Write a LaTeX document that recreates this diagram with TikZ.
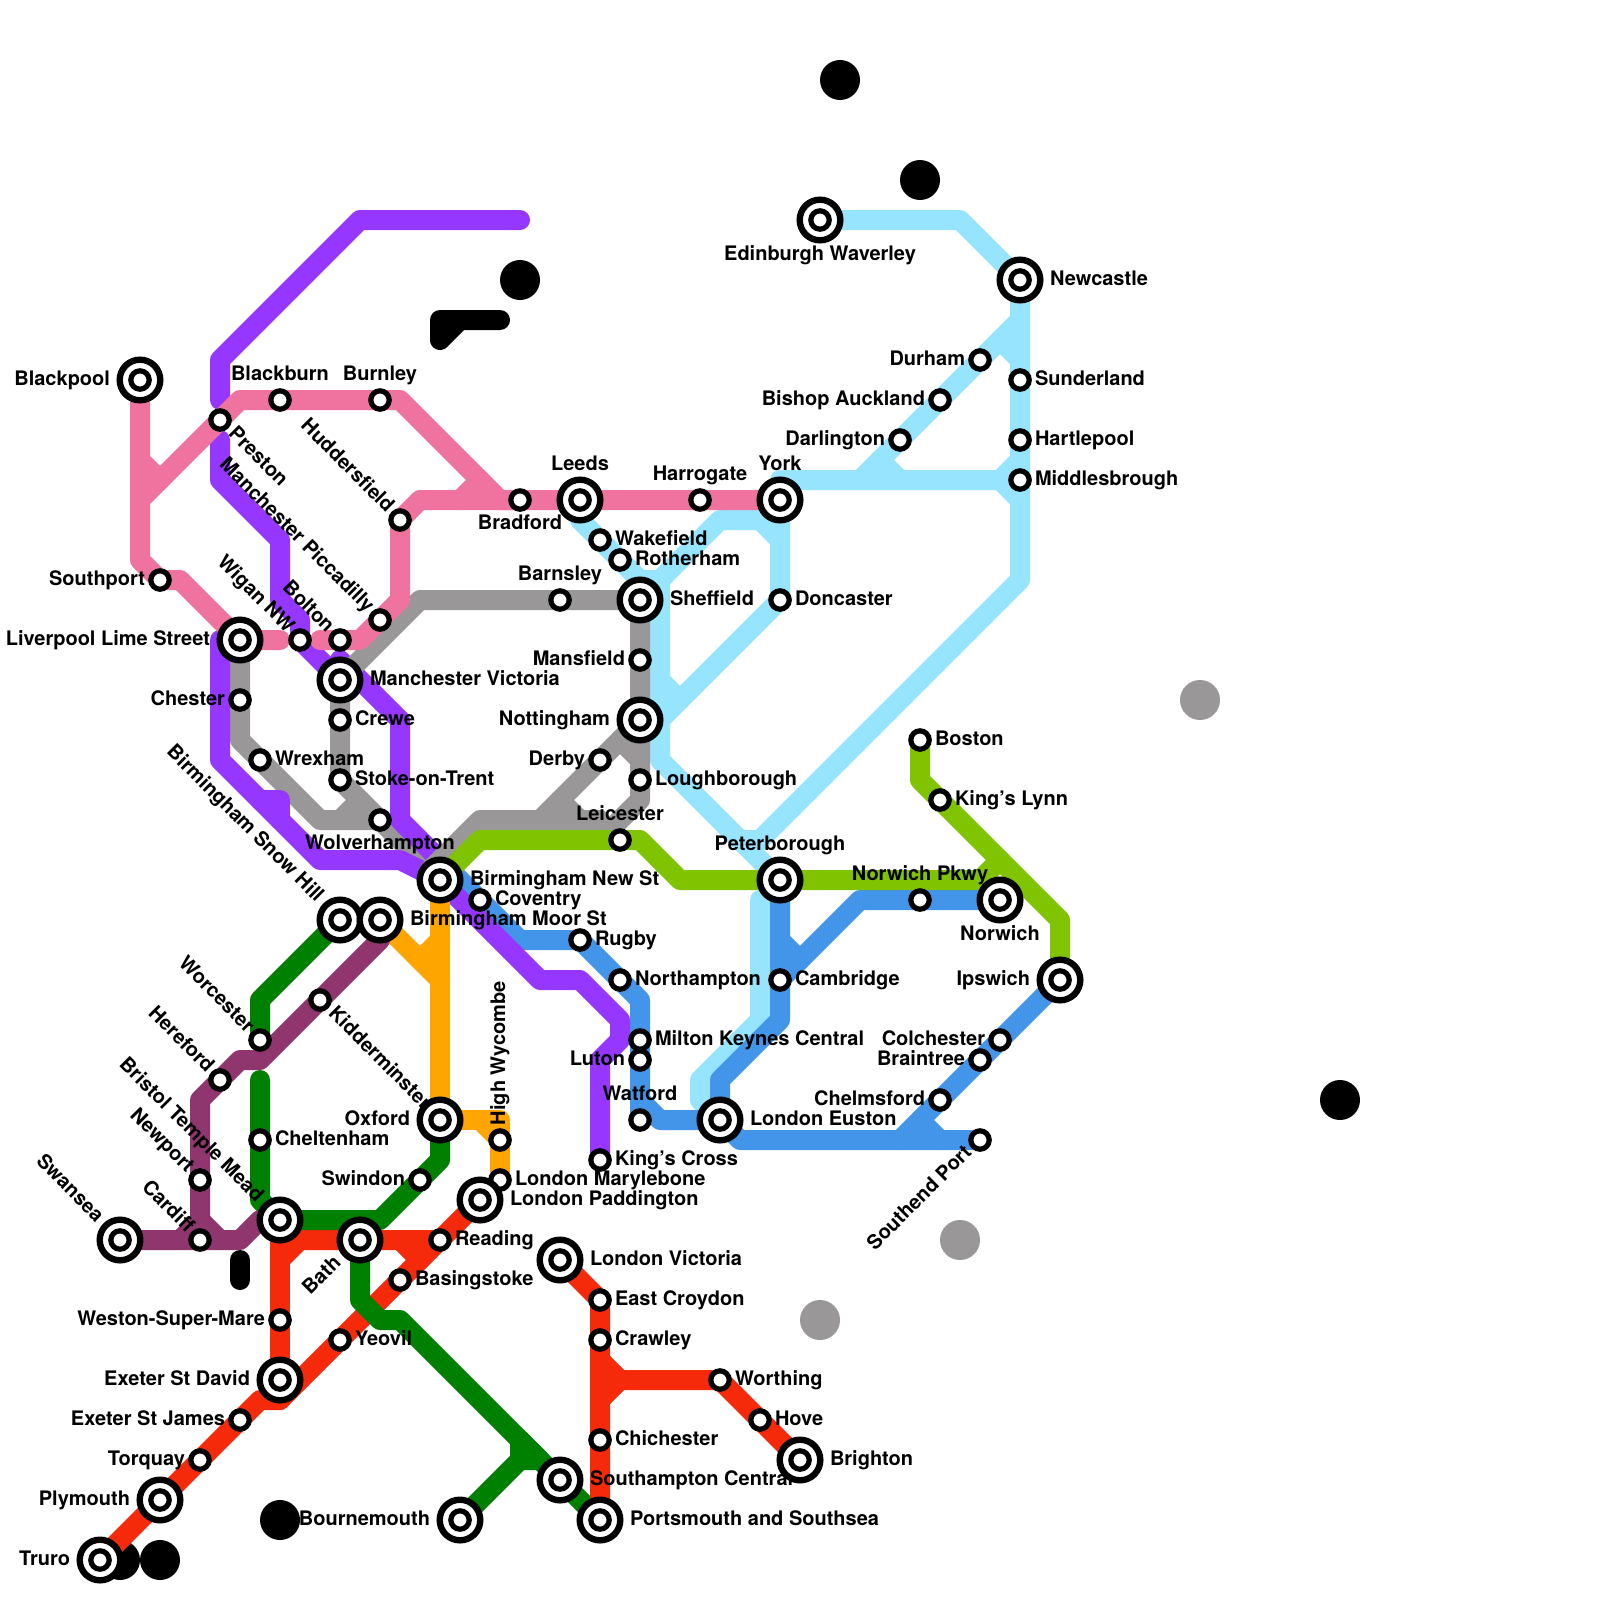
\documentclass[tikz,border=0pt]{standalone}
\usepackage{fontspec}
\setmainfont{TeX Gyre Heros}
\pgfdeclarelayer{lines}
\pgfdeclarelayer{labels}
\pgfsetlayers{lines,labels,main}
\definecolor{cPink}{HTML}{EF729F}
\definecolor{cPurple}{HTML}{9637FF}
\definecolor{cGrey}{HTML}{999797}
\definecolor{cSky}{HTML}{96E4FD}
\definecolor{cGreen}{HTML}{008000}
\definecolor{cMaroon}{HTML}{8F366F}
\definecolor{cRed}{HTML}{F42A0A}
\definecolor{cBlue}{HTML}{4295E9}
\definecolor{cOrange}{HTML}{FFA500}
\definecolor{cLime}{HTML}{80C300}
\tikzset{
  metro/.style={line width=10pt,line cap=round,line join=round},
  smallring/.style={circle,draw=black,fill=white,inner sep=0pt,line width=2.6pt,minimum size=9.2pt},
  bigring/.style={circle,draw=black,fill=white,inner sep=0pt,line width=3.2pt,minimum size=20.3pt},
  blob/.style={circle,inner sep=0pt,minimum size=20pt},
  lbl/.style={inner sep=0pt,outer sep=0pt,font=\fontsize{10}{12}\selectfont\bfseries,text=black},
  sR/.style={anchor=base west,xshift=7.5pt,yshift=-2.5pt},
  sL/.style={anchor=base east,xshift=-7.5pt,yshift=-2.5pt},
  sA/.style={anchor=base,yshift=10pt},
  sB/.style={anchor=base,yshift=-14.5pt},
  bR/.style={anchor=base west,xshift=15pt,yshift=-2.5pt},
  bL/.style={anchor=base east,xshift=-15pt,yshift=-2.5pt},
  bA/.style={anchor=base,yshift=15pt},
  bB/.style={anchor=base,yshift=-20pt},
  rtxt/.style={text height=7.2pt,text depth=0pt},
  sUL/.style={rtxt,anchor=east,xshift=-4.3pt,yshift=5.8pt,rotate=-45},
  bUL/.style={rtxt,anchor=east,xshift=-9.6pt,yshift=11.1pt,rotate=-45},
  sDR/.style={rtxt,anchor=west,xshift=6.3pt,yshift=-4.8pt,rotate=-45},
  sDL/.style={rtxt,anchor=east,xshift=-6.3pt,yshift=-4.3pt,rotate=45},
  bDL/.style={rtxt,anchor=east,xshift=-11.6pt,yshift=-9.6pt,rotate=45},
  sUp/.style={rtxt,anchor=west,xshift=-1pt,yshift=7.5pt,rotate=90},
}
\newcommand{\lblnode}[3]{\begin{pgfonlayer}{labels}\node[lbl,#2] (#1-t) at (#1.center) {#3};\end{pgfonlayer}}
\newcommand{\smst}[5]{\node[smallring] (#1) at (#2,#3) {};\lblnode{#1}{#4}{#5}}
\newcommand{\bgst}[5]{\node[bigring] (#1) at (#2,#3) {};\node[smallring] (#1-i) at (#1.center) {};\lblnode{#1}{#4}{#5}}
\begin{document}
\begin{tikzpicture}[x=0.5pt,y=-0.5pt]
\useasboundingbox (0,0) rectangle (1600,1600);
% stations
\bgst{blackpool}{140}{380}{bL}{Blackpool}
\smst{blackburn}{280}{400}{sA}{Blackburn}
\smst{burnley}{380}{400}{sA}{Burnley}
\smst{preston}{220}{420}{sDR}{Preston}
\smst{southport}{160}{580}{sL}{Southport}
\bgst{liver}{240}{640}{bL}{Liverpool Lime Street}
\smst{wigan}{300}{640}{sUL}{Wigan NW}
\smst{bolton}{340}{640}{sUL}{Bolton}
\smst{piccadilly}{380}{620}{sUL}{Manchester Piccadilly}
\smst{hudd}{400}{520}{sUL}{Huddersfield}
\smst{bradford}{520}{500}{sB}{Bradford}
\bgst{leeds}{580}{500}{bA}{Leeds}
\smst{harrogate}{700}{500}{sA}{Harrogate}
\bgst{york}{780}{500}{bA}{York}
\smst{wakefield}{600}{540}{sR}{Wakefield}
\smst{rotherham}{620}{560}{sR}{Rotherham}
\bgst{sheff}{640}{600}{bR}{Sheffield}
\smst{barnsley}{560}{600}{sA}{Barnsley}
\smst{doncaster}{780}{600}{sR}{Doncaster}
\smst{mansfield}{640}{660}{sL}{Mansfield}
\bgst{nott}{640}{720}{bL}{Nottingham}
\smst{derby}{600}{760}{sL}{Derby}
\smst{lough}{640}{780}{sR}{Loughborough}
\smst{leicester}{620}{840}{sA}{Leicester}
\bgst{mvic}{340}{680}{bR}{Manchester Victoria}
\smst{crewe}{340}{720}{sR}{Crewe}
\smst{chester}{240}{700}{sL}{Chester}
\smst{wrexham}{260}{760}{sR}{Wrexham}
\smst{stoke}{340}{780}{sR}{Stoke-on-Trent}
\smst{wolv}{380}{820}{sB}{Wolverhampton}
\bgst{bham}{440}{880}{bR}{Birmingham New St}
\smst{coventry}{480}{900}{sR}{Coventry}
\bgst{snow}{340}{920}{bUL}{Birmingham Snow Hill}
\bgst{moor}{380}{920}{bR}{Birmingham Moor St}
\smst{rugby}{580}{940}{sR}{Rugby}
\smst{northampton}{620}{980}{sR}{Northampton}
\smst{milton}{640}{1040}{sR}{Milton Keynes Central}
\smst{luton}{640}{1060}{sL}{Luton}
\smst{watford}{640}{1120}{sA}{Watford}
\bgst{euston}{720}{1120}{bR}{London Euston}
\smst{kingsx}{600}{1160}{sR}{King’s Cross}
\bgst{peter}{780}{880}{bA}{Peterborough}
\smst{cambridge}{780}{980}{sR}{Cambridge}
\smst{npkwy}{920}{900}{sA}{Norwich Pkwy}
\bgst{norwich}{1000}{900}{bB}{Norwich}
\bgst{ipswich}{1060}{980}{bL}{Ipswich}
\smst{colchester}{1000}{1040}{sL}{Colchester}
\smst{braintree}{980}{1060}{sL}{Braintree}
\smst{chelmsford}{940}{1100}{sL}{Chelmsford}
\smst{southend}{980}{1140}{sDL}{Southend Port}
\smst{boston}{920}{740}{sR}{Boston}
\smst{klynn}{940}{800}{sR}{King’s Lynn}
\bgst{edin}{820}{220}{bB}{Edinburgh Waverley}
\bgst{newc}{1020}{280}{bR}{Newcastle}
\smst{durham}{980}{360}{sL}{Durham}
\smst{bishop}{940}{400}{sL}{Bishop Auckland}
\smst{darlington}{900}{440}{sL}{Darlington}
\smst{sunderland}{1020}{380}{sR}{Sunderland}
\smst{hartlepool}{1020}{440}{sR}{Hartlepool}
\smst{middles}{1020}{480}{sR}{Middlesbrough}
\smst{worc}{260}{1040}{sUL}{Worcester}
\smst{kidder}{320}{1000}{sDR}{Kidderminster}
\smst{hereford}{220}{1080}{sUL}{Hereford}
\bgst{oxford}{440}{1120}{bL}{Oxford}
\smst{wycombe}{500}{1140}{sUp}{High Wycombe}
\smst{maryl}{500}{1180}{sR}{London Marylebone}
\bgst{padd}{480}{1200}{bR}{London Paddington}
\smst{chelt}{260}{1140}{sR}{Cheltenham}
\smst{swindon}{420}{1180}{sL}{Swindon}
\smst{newport}{200}{1180}{sUL}{Newport}
\bgst{bristol}{280}{1220}{bUL}{Bristol Temple Mead}
\smst{cardiff}{200}{1240}{sUL}{Cardiff}
\bgst{swan}{120}{1240}{bUL}{Swansea}
\bgst{bath}{360}{1240}{bDL}{Bath}
\smst{reading}{440}{1240}{sR}{Reading}
\smst{basing}{400}{1280}{sR}{Basingstoke}
\smst{weston}{280}{1320}{sL}{Weston-Super-Mare}
\smst{yeovil}{340}{1340}{sR}{Yeovil}
\bgst{exeterd}{280}{1380}{bL}{Exeter St David}
\smst{exeterj}{240}{1420}{sL}{Exeter St James}
\smst{torquay}{200}{1460}{sL}{Torquay}
\bgst{plymouth}{160}{1500}{bL}{Plymouth}
\bgst{truro}{100}{1560}{bL}{Truro}
\bgst{bourn}{460}{1520}{bL}{Bournemouth}
\bgst{vic}{560}{1260}{bR}{London Victoria}
\smst{croydon}{600}{1300}{sR}{East Croydon}
\smst{crawley}{600}{1340}{sR}{Crawley}
\smst{worthing}{720}{1380}{sR}{Worthing}
\smst{hove}{760}{1420}{sR}{Hove}
\bgst{brighton}{800}{1460}{bR}{Brighton}
\smst{chichester}{600}{1440}{sR}{Chichester}
\bgst{soton}{560}{1480}{bR}{Southampton Central}
\bgst{ports}{600}{1520}{bR}{Portsmouth and Southsea}
\begin{pgfonlayer}{lines}
\fill[white] (0,0) rectangle (1600,1600);
% free blobs
\node[blob,fill=black] (bk1) at (840,80) {};
\node[blob,fill=black] (bk2) at (920,180) {};
\node[blob,fill=black] (bk3) at (520,280) {};
\node[blob,fill=black] (bk4) at (1340,1100) {};
\node[blob,fill=black] (bk5) at (280,1520) {};
\node[blob,fill=black] (bk6) at (120,1560) {};
\node[blob,fill=black] (bk7) at (160,1560) {};
\node[blob,fill=cGrey] (gy1) at (1200,700) {};
\node[blob,fill=cGrey] (gy2) at (960,1240) {};
\node[blob,fill=cGrey] (gy3) at (820,1320) {};
% black stubs
\draw[metro,black] (500,320) -- (440,320) -- (440,340) -- (460,320);
\draw[metro,black] (240,1260) -- (240,1280);
% sky blue
\begin{scope}[metro,cSky]
\draw (edin.center) -- (960,220) -- (newc.center) -- (1020,580) -- (760,840) -- (740,840) -- (peter.center);
\draw (leeds.center) -- (580,520) -- (640,580) -- (660,580) -- (660,760) -- (740,840);
\draw (york.center) -- (780,520) -- (720,520) -- (sheff.center);
\draw (york.center) -- (doncaster.center) -- (660,720);
\draw (760,520) -- (780,540);
\draw (660,680) -- (680,700);
\draw (york.center) -- (780,480) -- (1000,480) -- (1020,460);
\draw (1000,480) -- (1020,500);
\draw (1020,320) -- (860,480);
\draw (1000,340) -- (1020,360);
\draw (880,460) -- (900,480);
\draw (760,900) -- (760,1020) -- (700,1080) -- (700,1100) -- (euston.center);
\end{scope}
% grey, first part
\begin{scope}[metro,cGrey]
\draw (liver.center) -- (240,740) -- (320,820) -- (wolv.center);
\draw (mvic.center) -- (stoke.center) -- (bham.center);
\draw (340,820) -- (360,800);
\end{scope}
% blue
\begin{scope}[metro,cBlue]
\draw (peter.center) -- (780,1020) -- (720,1080) -- (euston.center);
\draw (780,940) -- (800,960);
\draw (norwich.center) -- (860,900) -- (780,980);
\draw (ipswich.center) -- (900,1140);
\draw (euston.center) -- (740,1140) -- (southend.center);
\draw (920,1120) -- (940,1140);
\draw (bham.center) -- (440,860) -- (520,940) -- (rugby.center) -- (640,1000) -- (640,1100) -- (watford.center);
\draw (640,1100) -- (660,1120) -- (euston.center);
\end{scope}
% purple
\begin{scope}[metro,cPurple]
\draw (520,220) -- (360,220) -- (220,360) -- (220,400);
\draw (220,440) -- (220,480) -- (280,540) -- (280,600) -- (300,620) -- (300,640) -- (mvic.center) -- (340,660) -- (400,720) -- (400,820) -- (440,860) -- (bham.center) -- (540,980) -- (580,980) -- (620,1020) -- (620,1040) -- (600,1060) -- (kingsx.center);
\draw (220,640) -- (220,760) -- (320,860) -- (400,860) -- (bham.center);
\draw (260,800) -- (280,800) -- (280,820);
\end{scope}
% grey, second part
\begin{scope}[metro,cGrey]
\draw (mvic.center) -- (420,600) -- (sheff.center) -- (nott.center) -- (640,800) -- (600,840);
\draw (nott.center) -- (540,820);
\draw (430,870) -- (480,820) -- (600,820);
\draw (620,740) -- (640,760);
\draw (560,800) -- (600,840);
\end{scope}
% pink
\begin{scope}[metro,cPink]
\draw (blackpool.center) -- (140,560) -- (160,580) -- (180,580) -- (liver.center) -- (280,640);
\draw (140,460) -- (160,480);
\draw (140,500) -- (240,400) -- (400,400) -- (500,500) -- (bradford.center);
\draw (320,640) -- (360,640) -- (400,600) -- (400,520) -- (420,500) -- (york.center);
\draw (460,500) -- (480,480);
\end{scope}
% green, piece under the red
\draw[metro,cGreen] (520,1440) -- (ports.center);
% red
\begin{scope}[metro,cRed]
\draw (bristol.center) -- (exeterd.center) -- (280,1400);
\draw (truro.center) -- (260,1400) -- (280,1400) -- (padd.center);
\draw (280,1260) -- (300,1240) -- (reading.center);
\draw (400,1240) -- (420,1260);
\draw (vic.center) -- (600,1300) -- (ports.center);
\draw (600,1360) -- (620,1380) -- (worthing.center) -- (brighton.center);
\draw (600,1400) -- (620,1380);
\end{scope}
% green
\begin{scope}[metro,cGreen]
\draw (snow.center) -- (260,1000) -- (worc.center);
\draw (260,1080) -- (260,1200) -- (bristol.center) -- (380,1220) -- (440,1160) -- (oxford.center);
\draw (bath.center) -- (360,1300) -- (380,1320) -- (400,1320) -- (520,1440) -- (540,1460) -- (520,1460) -- (bourn.center);
\draw (520,1440) -- (520,1460);
\end{scope}
% orange
\begin{scope}[metro,cOrange]
\draw (bham.center) -- (oxford.center) -- (500,1120) -- (maryl.center);
\draw (moor.center) -- (440,980);
\draw (420,960) -- (440,940);
\draw (480,1120) -- (500,1140);
\end{scope}
% maroon
\begin{scope}[metro,cMaroon]
\draw (swan.center) -- (240,1240) -- (260,1220) -- (bristol.center);
\draw (cardiff.center) -- (200,1100) -- (240,1060) -- (260,1060) -- (380,940) -- (moor.center);
\draw (180,1240) -- (200,1220) -- (220,1240);
\end{scope}
% lime
\begin{scope}[metro,cLime]
\draw (bham.center) -- (480,840) -- (640,840) -- (680,880) -- (980,880) -- (1000,860);
\draw (boston.center) -- (920,780) -- (1060,920) -- (ipswich.center);
\end{scope}
\end{pgfonlayer}
\end{tikzpicture}
\end{document}
